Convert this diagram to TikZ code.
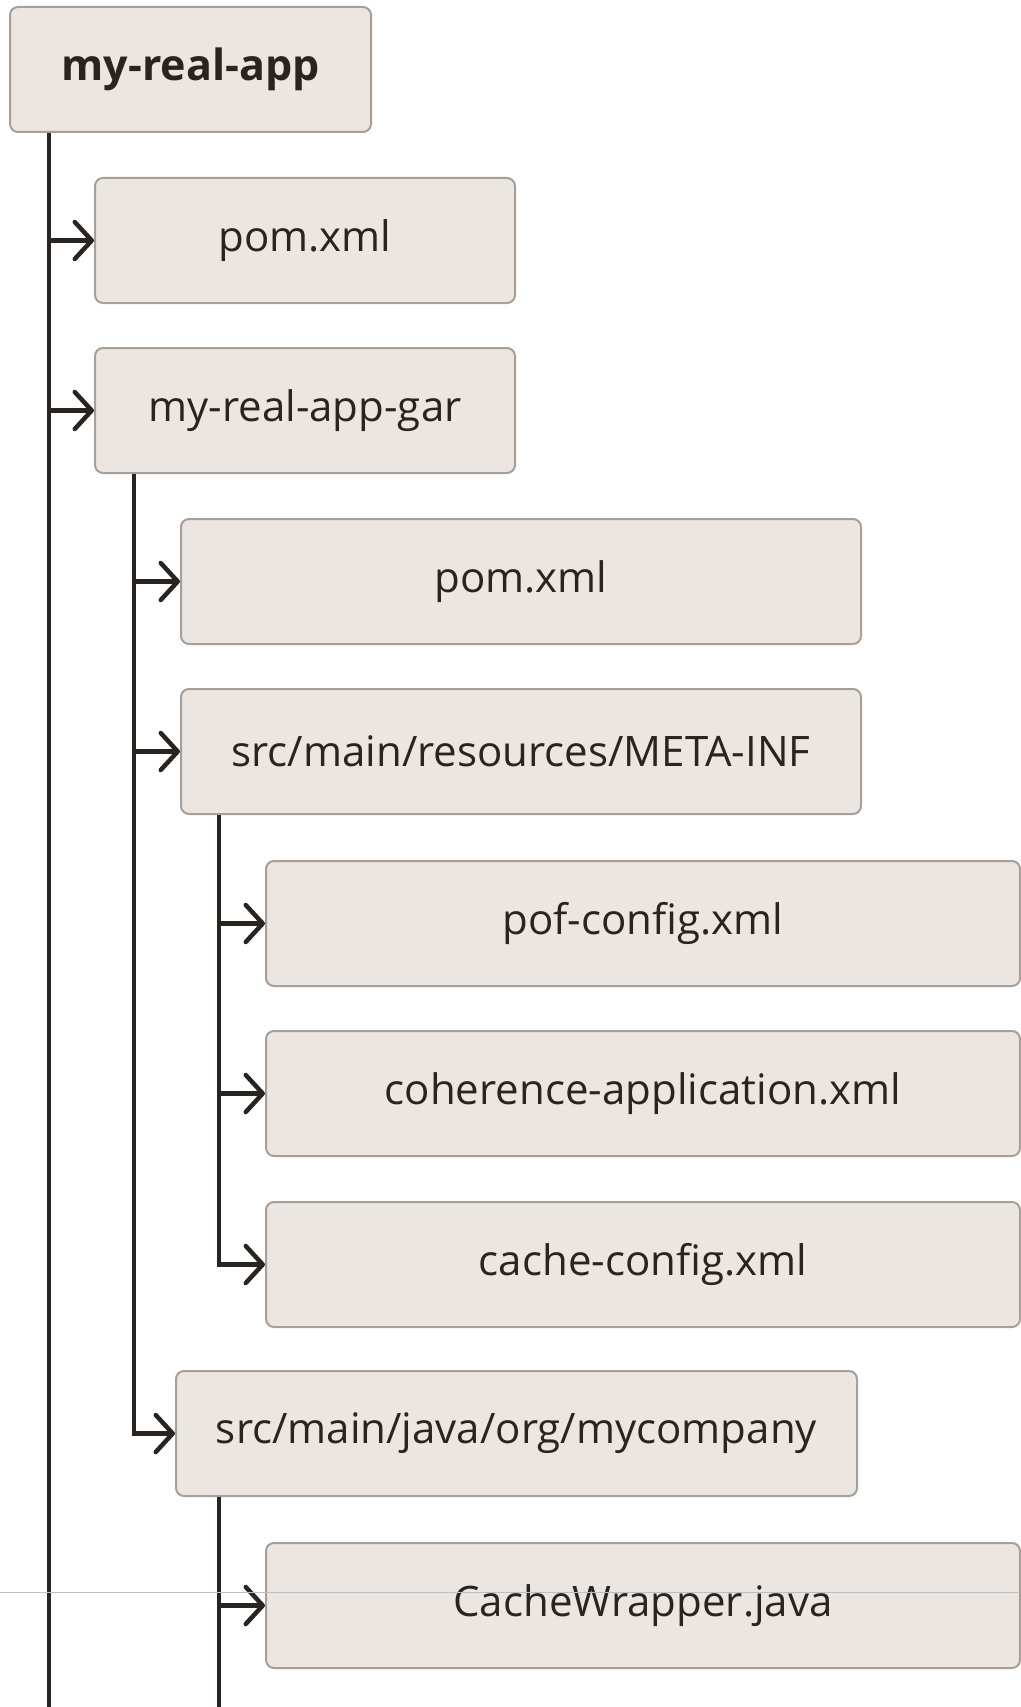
\documentclass[tikz,border=0pt]{standalone}
\usepackage{fontspec}
\setmainfont{Open Sans}
\usetikzlibrary{arrows.meta}
\definecolor{boxfill}{HTML}{EBE6E1}
\definecolor{boxline}{HTML}{A89F97}
\definecolor{treeline}{HTML}{2A2421}

\begin{document}
\begin{tikzpicture}[x=1pt, y=-1pt]
    \tikzstyle{entry} = [rectangle, draw=boxline, fill=boxfill, line width=2pt, rounded corners=8pt,
                         anchor=north west, minimum height=125pt, inner sep=0pt, text=treeline,
                         font=\fontsize{42}{50}\selectfont]
    \tikzstyle{tree} = [draw=treeline, line width=4.5pt]
    \tikzstyle{leaf} = [tree, -{Straight Barb[length=17pt, width=37pt, line cap=round, line join=round]}]
  \useasboundingbox (0,0) rectangle (1020,1707);
  \node[entry, minimum width=361pt, font=\fontsize{43}{50}\selectfont\bfseries] (app) at (9,6) {my-real-app};
  \node[entry, minimum width=420pt] (pom) at (94,177) {pom.xml};
  \node[entry, minimum width=420pt] (gar) at (94,347) {my-real-app-gar};
  \node[entry, minimum width=680pt] (garpom) at (180,518) {pom.xml};
  \node[entry, minimum width=680pt] (meta) at (180,688) {src/main/resources/META-INF};
  \node[entry, minimum width=754pt] (pof) at (265,860) {pof-config.xml};
  \node[entry, minimum width=754pt] (coh) at (265,1030) {coherence-application.xml};
  \node[entry, minimum width=754pt] (cache) at (265,1201) {cache-config.xml};
  \node[entry, minimum width=681pt] (java) at (175,1370) {src/main/java/org/mycompany};
  \node[entry, minimum width=754pt] (wrap) at (265,1542) {CacheWrapper.java};
  % tree lines
  \coordinate (rootline) at ([xshift=40pt]app.south west);
  \coordinate (garline) at ([xshift=40pt]gar.south west);
  \coordinate (metaline) at ([xshift=39pt]meta.south west);
  \coordinate (javaline) at ([xshift=44pt]java.south west);
  \draw[tree] (rootline) -- (rootline |- 0,1707);
  \draw[leaf] (rootline |- pom.west) -- (pom.west);
  \draw[leaf] (rootline |- gar.west) -- (gar.west);
  \draw[leaf] (garline |- garpom.west) -- (garpom.west);
  \draw[leaf] (garline |- meta.west) -- (meta.west);
  \draw[leaf] (garline) |- (java.west);
  \draw[leaf] (metaline |- pof.west) -- (pof.west);
  \draw[leaf] (metaline |- coh.west) -- (coh.west);
  \draw[leaf] (metaline) |- (cache.west);
  \draw[tree] (javaline) -- (javaline |- 0,1707);
  \draw[leaf] (javaline |- wrap.west) -- (wrap.west);
  \draw[black!25, line width=1pt] (0,1592) -- (1020,1592);
\end{tikzpicture}
\end{document}
